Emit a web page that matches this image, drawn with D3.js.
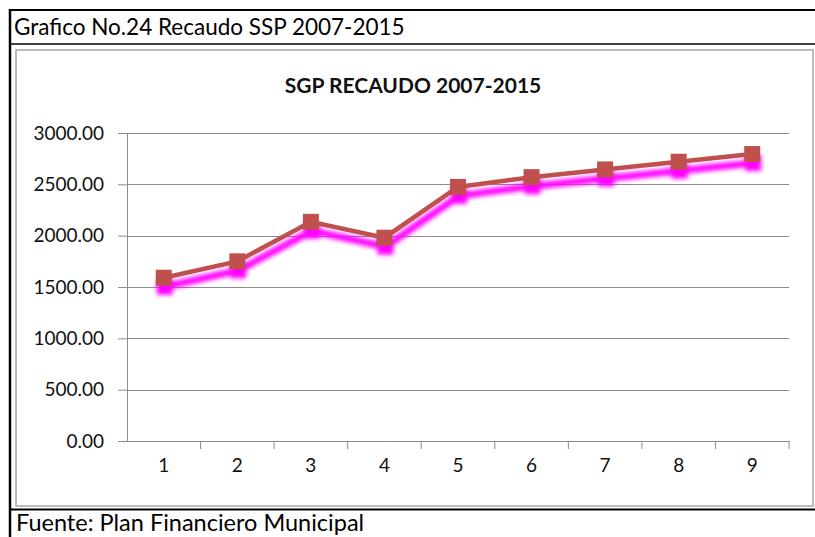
<!DOCTYPE html>
<html>
<head>
<meta charset="utf-8">
<script src="https://cdn.jsdelivr.net/npm/d3@7"></script>
<style>
  html, body { margin: 0; padding: 0; background: #fff; }
  svg text { font-family: Lato, "Open Sans", sans-serif; }
</style>
</head>
<body>
<div id="main"></div>
<script>
// DATA
const categories = ["1", "2", "3", "4", "5", "6", "7", "8", "9"]
const recaudo = [1590, 1750, 2135, 1980, 2475, 2570, 2645, 2720, 2795]
const yTicks = [0, 500, 1000, 1500, 2000, 2500, 3000]

const headerText = "Grafico No.24 Recaudo SSP 2007-2015"
const chartTitle = "SGP RECAUDO 2007-2015"
const footerText = "Fuente: Plan Financiero Municipal"

// SETUP
const width = 815
const height = 537
const plot = { left: 127, right: 789, top: 133, bottom: 441 }

const svg = d3.select("#main").append("svg")
    .attr("width", width)
    .attr("height", height)

// shadow filter
const defs = svg.append("defs")
defs.append("filter")
    .attr("id", "glow")
    .attr("x", "-10%").attr("y", "-10%")
    .attr("width", "120%").attr("height", "120%")
  .append("feGaussianBlur")
    .attr("stdDeviation", 2)

// FRAME
svg.append("rect")
    .attr("x", 16).attr("y", 50)
    .attr("width", 797).attr("height", 456)
    .attr("fill", "#fff")
    .attr("stroke", "#a6a6a6")
    .attr("stroke-width", 1.5)

svg.append("line").attr("x1", 10).attr("x2", width).attr("y1", 10).attr("y2", 10)
    .attr("stroke", "#000").attr("stroke-width", 2)
svg.append("line").attr("x1", 10).attr("x2", 10).attr("y1", 9).attr("y2", height)
    .attr("stroke", "#000").attr("stroke-width", 2.5)
svg.append("line").attr("x1", 10).attr("x2", width).attr("y1", 44).attr("y2", 44)
    .attr("stroke", "#000").attr("stroke-width", 1.5)
svg.append("line").attr("x1", 10).attr("x2", width).attr("y1", 509.5).attr("y2", 509.5)
    .attr("stroke", "#000").attr("stroke-width", 2)

svg.append("text")
    .attr("x", 14).attr("y", 35)
    .attr("font-size", 22.5)
    .attr("fill", "#000")
    .text(headerText)

svg.append("text")
    .attr("x", 16).attr("y", 531)
    .attr("font-size", 23.5)
    .attr("fill", "#000")
    .text(footerText)

svg.append("text")
    .attr("x", 413).attr("y", 93)
    .attr("text-anchor", "middle")
    .attr("font-size", 21)
    .attr("font-weight", "bold")
    .attr("fill", "#111")
    .text(chartTitle)

// SCALES
const x = d3.scaleBand()
    .domain(categories)
    .range([plot.left, plot.right])

const y = d3.scaleLinear()
    .domain([0, 3000])
    .range([plot.bottom, plot.top])

// GRID
svg.append("g")
    .selectAll("line")
    .data(yTicks.filter(d => d > 0))
    .enter().append("line")
        .attr("x1", plot.left).attr("x2", plot.right)
        .attr("y1", d => Math.round(y(d)) + .5)
        .attr("y2", d => Math.round(y(d)) + .5)
        .attr("stroke", "#8c8c8c")

// AXES
const yAxis = svg.append("g")
    .attr("transform", `translate(${plot.left},0)`)
    .call(d3.axisLeft(y).tickValues(yTicks).tickFormat(d3.format(".2f")).tickSize(9).tickPadding(14))
const xAxis = svg.append("g")
    .attr("transform", `translate(0,${plot.bottom})`)
    .call(d3.axisBottom(x).tickSize(0).tickPadding(24))

// x ticks on band edges
svg.append("g")
    .selectAll("line")
    .data(categories)
    .enter().append("line")
        .attr("x1", d => x(d) + x.bandwidth()).attr("x2", d => x(d) + x.bandwidth())
        .attr("y1", plot.bottom).attr("y2", plot.bottom + 8)
        .attr("stroke", "#8c8c8c")

;[yAxis, xAxis].forEach(a => {
    a.select(".domain").attr("stroke", "#8c8c8c")
    a.selectAll(".tick line").attr("stroke", "#8c8c8c")
    a.selectAll("text")
        .attr("font-family", "Lato, sans-serif")
        .attr("font-size", 19)
        .attr("fill", "#111")
})
xAxis.selectAll("text").attr("dy", ".35em")

// LINE
const cx = d => x(d) + x.bandwidth() / 2
const line = d3.line()
    .x((d, i) => cx(categories[i]))
    .y(d => y(d))

const shadow = svg.append("g")
    .attr("transform", "translate(1,9)")
    .attr("filter", "url(#glow)")

shadow.append("path")
    .datum(recaudo)
    .attr("d", line)
    .attr("fill", "none")
    .attr("stroke", "#ff00ff")
    .attr("stroke-width", 7)

shadow.selectAll("rect")
    .data(recaudo)
    .enter().append("rect")
        .attr("x", (d, i) => cx(categories[i]) - 8)
        .attr("y", d => y(d) - 8)
        .attr("width", 16).attr("height", 16)
        .attr("fill", "#ff00ff")

svg.append("path")
    .datum(recaudo)
    .attr("d", line)
    .attr("fill", "none")
    .attr("stroke", "#c0504d")
    .attr("stroke-width", 4.5)

svg.append("g")
    .selectAll("rect")
    .data(recaudo)
    .enter().append("rect")
        .attr("x", (d, i) => cx(categories[i]) - 8)
        .attr("y", d => y(d) - 8)
        .attr("width", 16).attr("height", 16)
        .attr("fill", "#c0504d")
</script>
</body>
</html>
